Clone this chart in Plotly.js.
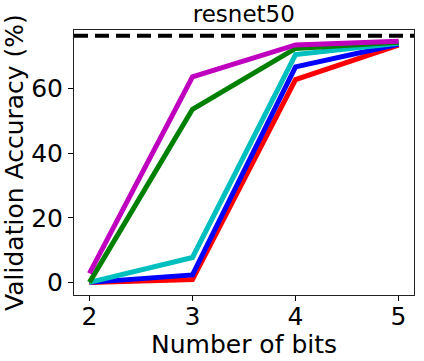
<!DOCTYPE html>
<html>
<head>
<meta charset="utf-8">
<script src="https://cdn.plot.ly/plotly-3.0.1.min.js"></script>
<style>
  html, body { margin: 0; padding: 0; background: #fff; }
  #plot { width: 424px; height: 361px; }
</style>
</head>
<body>
<div id="plot"></div>
<script>
// bits on the x axis
var bits = [2, 3, 4, 5];

// validation accuracy (%) per run
var red     = [0.1, 1.0, 62.8, 73.4];
var blue    = [0.1, 2.4, 66.7, 73.7];
var cyan    = [0.1, 7.8, 70.5, 74.0];
var green   = [0.1, 53.6, 72.4, 74.3];
var magenta = [2.9, 63.6, 73.5, 74.6];

// full precision baseline
var baseline = 76.3;

var colori = ['#ff0000', '#0000ff', '#00bfbf', '#008000', '#bf00bf'];
var serie = [red, blue, cyan, green, magenta];

var data = serie.map(function(v, i) {
  return {
    x: bits,
    y: v,
    mode: 'lines',
    line: { color: colori[i], width: 5 },
    showlegend: false,
    hoverinfo: 'skip'
  };
});

var font = { family: 'DejaVu Sans', size: 25, color: '#000' };

var layout = {
  width: 424,
  height: 361,
  margin: { l: 74, r: 10, t: 30, b: 66 },
  paper_bgcolor: '#fff',
  plot_bgcolor: '#fff',
  font: font,
  title: {
    text: 'resnet50',
    font: { family: 'DejaVu Sans', size: 23, color: '#000' },
    x: 0.575, xanchor: 'center',
    y: 0.96, yanchor: 'middle'
  },
  xaxis: {
    range: [1.85, 5.15],
    tickvals: bits,
    ticks: 'outside', ticklen: 5, tickwidth: 1, tickcolor: '#000',
    ticklabelstandoff: -6,
    showgrid: false, zeroline: false,
    showline: true, linecolor: '#222', linewidth: 1, mirror: true,
    tickfont: font
  },
  yaxis: {
    range: [-3.8, 78.1],
    tickvals: [0, 20, 40, 60],
    ticks: 'outside', ticklen: 5, tickwidth: 1, tickcolor: '#000',
    showgrid: false, zeroline: false,
    showline: true, linecolor: '#222', linewidth: 1, mirror: true,
    tickfont: font,
    title: { text: 'Validation Accuracy (%)', font: font, standoff: 2 }
  },
  annotations: [{
    text: 'Number of bits', font: font, showarrow: false,
    xref: 'paper', yref: 'paper', x: 0.5, y: -0.185,
    xanchor: 'center', yanchor: 'middle'
  }],
  shapes: [{
    type: 'line', xref: 'paper', x0: 0, x1: 1,
    yref: 'y', y0: baseline, y1: baseline,
    line: { color: '#000', width: 4, dash: '14px,7px' }
  }]
};

Plotly.newPlot('plot', data, layout, { displayModeBar: false, staticPlot: true });
</script>
</body>
</html>
